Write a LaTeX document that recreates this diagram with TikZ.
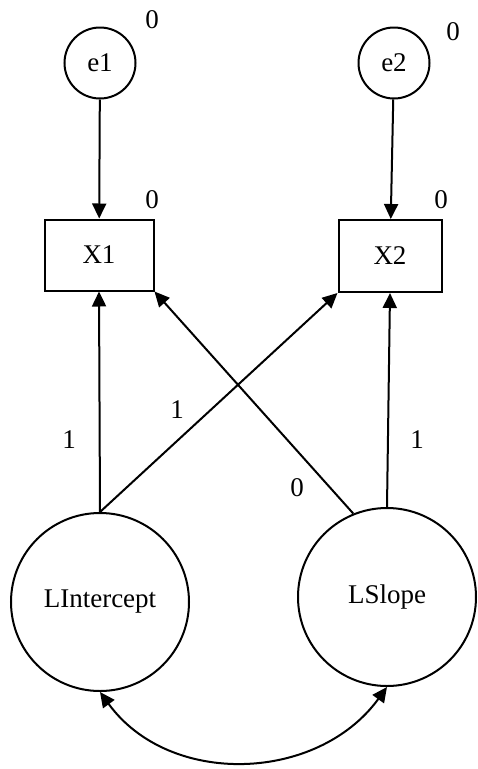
\documentclass[tikz,border=0pt]{standalone}
\usepackage{fontspec}
\setmainfont{Liberation Serif}
\usetikzlibrary{arrows.meta}

\begin{document}
\begin{tikzpicture}[x=1pt,y=-1pt,line width=2pt,
    font=\fontsize{27}{32}\selectfont,
    err/.style={draw,circle,minimum size=71pt,inner sep=0pt},
    obs/.style={draw,rectangle,inner sep=0pt},
    lat/.style={draw,circle,minimum size=178pt,inner sep=0pt},
    path/.style={-{Triangle[length=15pt,width=14pt]}},
    cov/.style={{Triangle[length=15pt,width=14pt]}-{Triangle[length=15pt,width=14pt]}},
    lbl/.style={inner sep=0pt}]
    \useasboundingbox (0,0) rectangle (477,769);
    % error terms
    \node[err] (e1) at (100,63) {e1};
    \node[err] (e2) at (394,63) {e2};
    \node[lbl] (ve1) at (152,20) {0};
    \node[lbl] (ve2) at (453,32) {0};
    % observed
    \node[obs,minimum width=109pt,minimum height=71pt] (x1) at (99,255) {X1};
    \node[obs,minimum width=103pt,minimum height=72pt] (x2) at (390,256) {X2};
    \node[lbl] (m1) at (152,200) {0};
    \node[lbl] (m2) at (441,200) {0};
    % latent growth factors
    \node[lat] (li) at (100,602) {LIntercept};
    \node[lat] (ls) at (387,597) {LSlope};
    \draw[path] (e1) -- (x1);
    \draw[path] (e2) -- (x2);
    \draw[path] (li.north) -- (x1.south);
    \draw[path] (li.north) -- (x2.south west);
    \draw[path] (ls.112) -- (x1.south east);
    \draw[path] (ls.north) -- (x2.south);
    \node[lbl] (w1) at (69,440) {1};
    \node[lbl] (w2) at (177,410) {1};
    \node[lbl] (w3) at (297,488) {0};
    \node[lbl] (w4) at (417,440) {1};
    \draw[cov] (li.south) to[out=-54,in=-126,looseness=1.05] (ls.south);
\end{tikzpicture}
\end{document}
